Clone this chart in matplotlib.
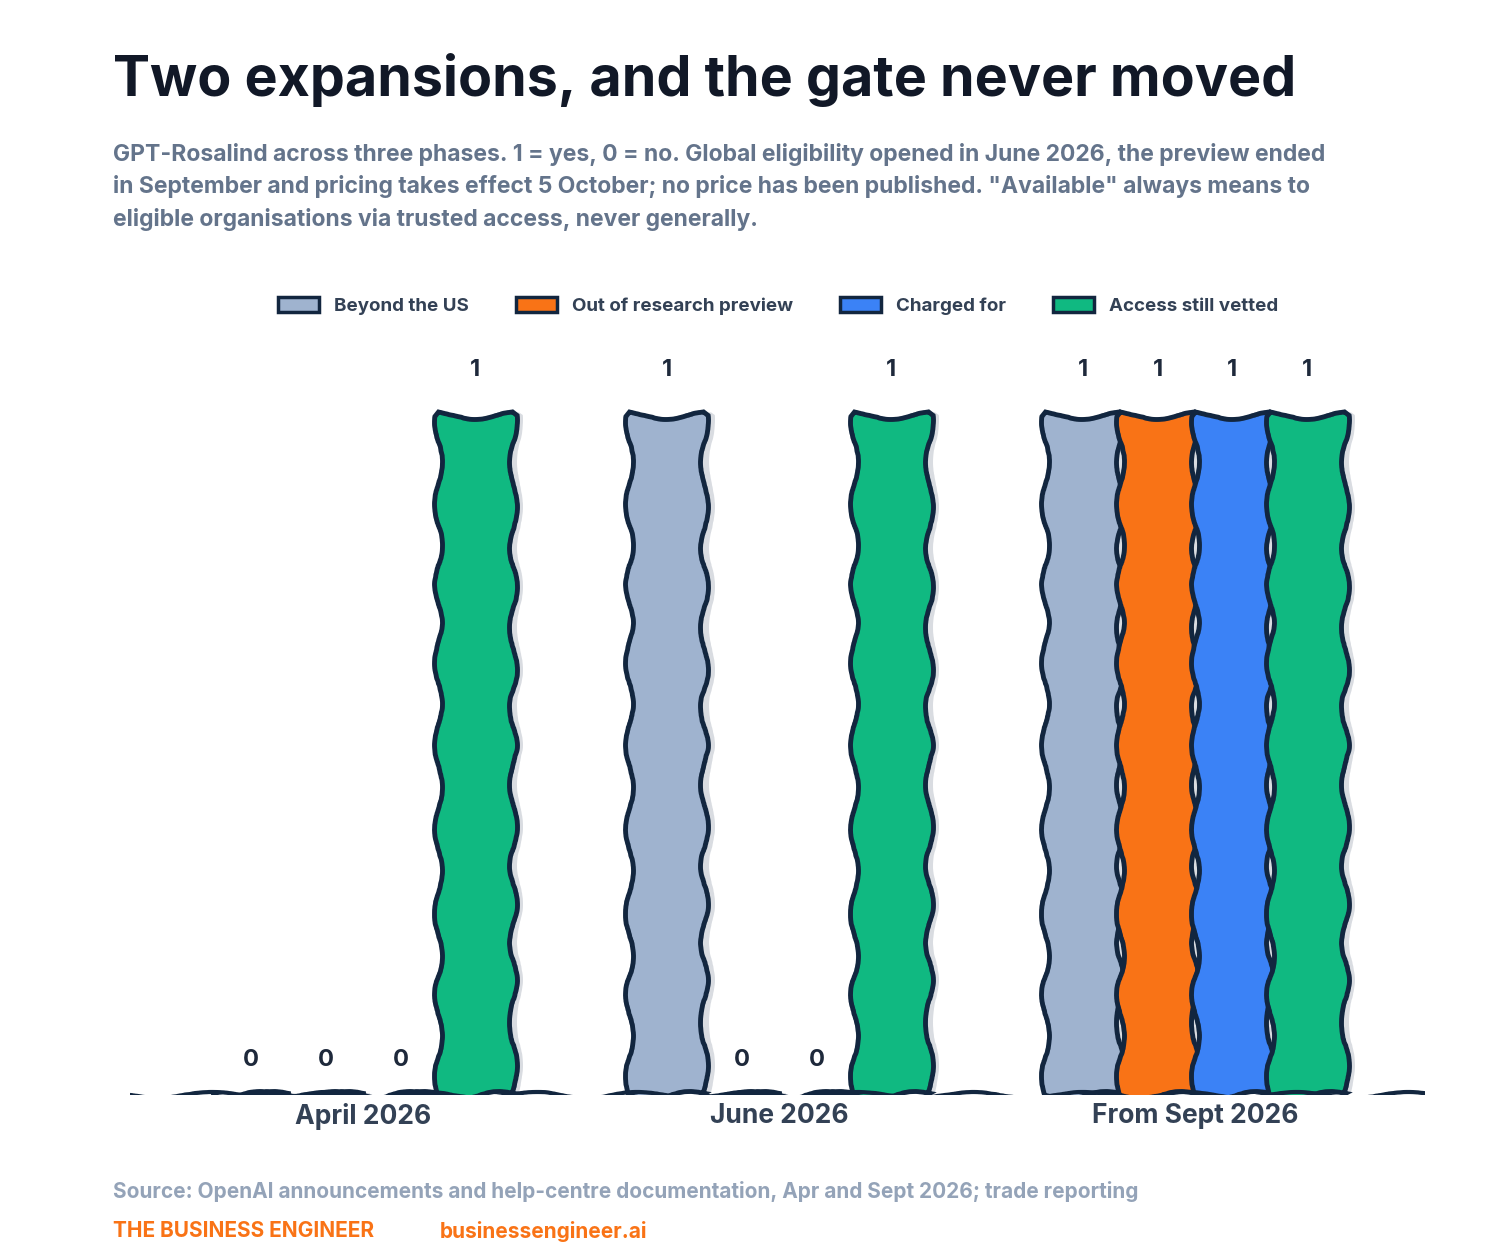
import matplotlib
matplotlib.use("Agg")
import matplotlib.pyplot as plt
import numpy as np
from matplotlib.patches import Patch

phases = ["April 2026", "June 2026", "From Sept 2026"]
series = ["Beyond the US", "Out of research preview", "Charged for", "Access still vetted"]
values = {
    "Beyond the US": [0, 1, 1],
    "Out of research preview": [0, 0, 1],
    "Charged for": [0, 0, 1],
    "Access still vetted": [1, 1, 1],
}
colors = ["#9fb3cf", "#f97316", "#3b82f6", "#10b981"]
edge = "#12263f"

plt.rcParams['font.family'] = ['Inter', 'DejaVu Sans']
fig = plt.figure(figsize=(15.12, 12.6), dpi=100)
ax = fig.add_axes([130/1512, 165/1260, 1295/1512, 755/1260])

w = 0.18
x = np.arange(len(phases))
for i, (s, c) in enumerate(zip(series, colors)):
    off = (i - 1.5) * w
    v = np.array(values[s])
    # shadow
    sh = ax.bar(x + off + 0.018, v, w, color="#d9dce1", zorder=1, linewidth=0)
    for b in sh:
        b.set_sketch_params(scale=3, length=90, randomness=2)
    bars = ax.bar(x + off, v, w, color=c, edgecolor=edge, linewidth=3.5, zorder=2)
    for b in bars:
        b.set_sketch_params(scale=4, length=90, randomness=2)
    for xi, vi in zip(x + off, v):
        ax.text(xi, vi + (0.05 if vi else 0.035), str(vi), ha="center", va="bottom",
                fontsize=17, fontweight="bold", color="#1e293b")

ln = ax.axhline(0, color=edge, linewidth=3, zorder=3)
ln.set_sketch_params(scale=3, length=120, randomness=2)
ax.set_xlim(-0.56, 2.553)
ax.set_ylim(0, 1.11)
ax.set_xticks(x)
ax.set_xticklabels(phases, fontsize=19, fontweight="bold", color="#334155")
ax.tick_params(axis="x", length=0, pad=6)
ax.set_yticks([])
for sp in ax.spines.values():
    sp.set_visible(False)

fig.text(113/1512, 1-80/1260, "Two expansions, and the gate never moved", fontsize=40,
         fontweight="bold", color="#111827", va="center")
fig.text(113/1512, 1-187/1260,
         "GPT-Rosalind across three phases. 1 = yes, 0 = no. Global eligibility opened in June 2026, the preview ended\n"
         "in September and pricing takes effect 5 October; no price has been published. \"Available\" always means to\n"
         "eligible organisations via trusted access, never generally.",
         fontsize=16.5, fontweight="bold", color="#64748b", va="center", linespacing=1.55)

handles = [Patch(facecolor=c, edgecolor=edge, linewidth=2.5) for c in colors]
fig.legend(handles, series, loc="center", bbox_to_anchor=(778/1512, 1-306/1260), ncol=4,
           frameon=False, fontsize=13.5, handlelength=2.2, handleheight=0.8, columnspacing=2.5,
           prop={'weight': 'bold', 'size': 13.5})
for t in fig.legends[0].get_texts():
    t.set_color("#334155")

fig.text(113/1512, 1-1192/1260,
         "Source: OpenAI announcements and help-centre documentation, Apr and Sept 2026; trade reporting",
         fontsize=15, fontweight="bold", color="#94a3b8", va="center")
fig.text(113/1512, 1-1231/1260, "THE BUSINESS ENGINEER", fontsize=15, fontweight="bold",
         color="#f97316", va="center")
fig.text(440/1512, 1-1231/1260, "businessengineer.ai", fontsize=15, fontweight="bold",
         color="#f97316", va="center")

fig.savefig("out.png", dpi=100, facecolor="white")
